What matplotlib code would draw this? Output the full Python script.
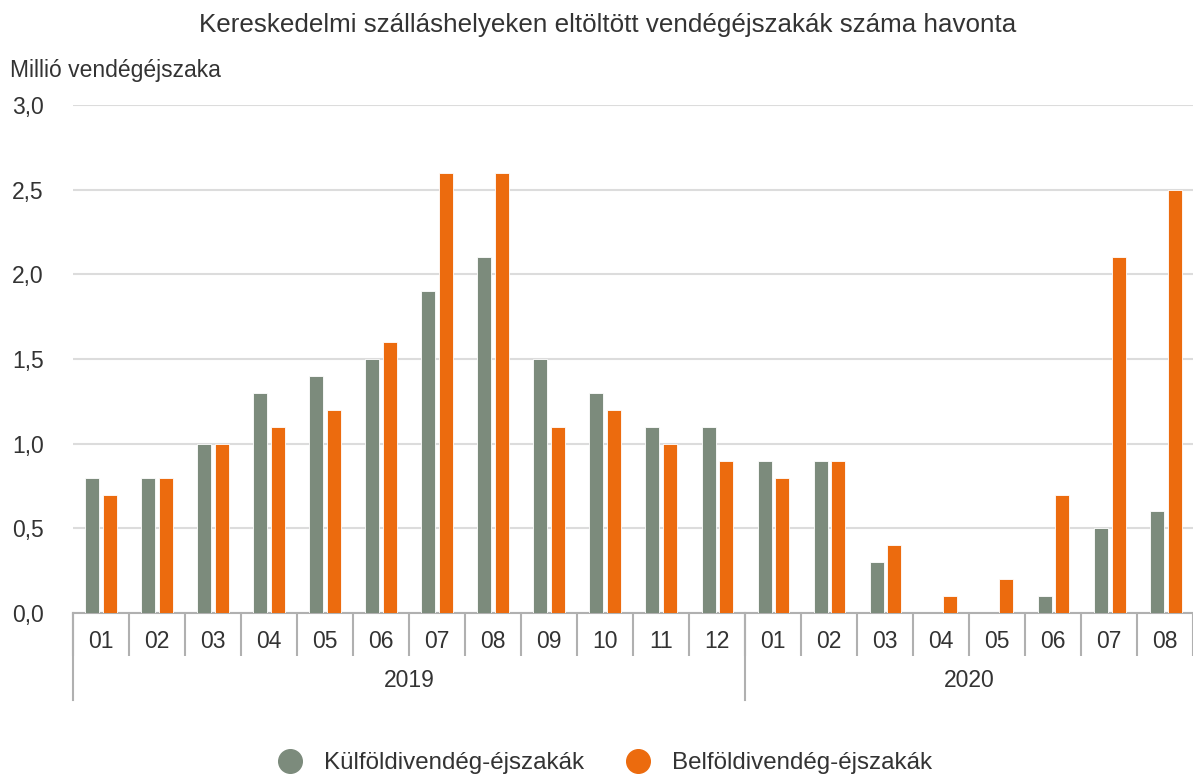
import numpy as np
import matplotlib.pyplot as plt
from matplotlib.lines import Line2D

plt.rcParams['font.family'] = ['Liberation Sans', 'DejaVu Sans']

months = ['01', '02', '03', '04', '05', '06', '07', '08', '09', '10', '11', '12',
          '01', '02', '03', '04', '05', '06', '07', '08']
years = ['2019', '2020']
year_len = [12, 8]
kulfold = [0.8, 0.8, 1.0, 1.3, 1.4, 1.5, 1.9, 2.1, 1.5, 1.3, 1.1, 1.1,
           0.9, 0.9, 0.3, 0.0, 0.0, 0.1, 0.5, 0.6]
belfold = [0.7, 0.8, 1.0, 1.1, 1.2, 1.6, 2.6, 2.6, 1.1, 1.2, 1.0, 0.9,
           0.8, 0.9, 0.4, 0.1, 0.2, 0.7, 2.1, 2.5]
yticks = [0.0, 0.5, 1.0, 1.5, 2.0, 2.5, 3.0]

green = '#7c8b7c'
orange = '#ec6b0e'
txt = '#333333'
axc = '#b0b0b0'
fs = 16.5

fig = plt.figure(figsize=(11.93, 7.78), dpi=100)
ax = fig.add_axes([0.061, 0.212, 0.939, 0.653])

x = np.arange(len(months))
w = 0.25
ax.bar(x - 0.15, kulfold, w, color=green, edgecolor='white', linewidth=0.6, zorder=3)
ax.bar(x + 0.17, belfold, w, color=orange, edgecolor='white', linewidth=0.6, zorder=3)

ax.set_xlim(-0.5, len(months) - 0.5)
ax.set_ylim(0, 3.0)
ax.set_yticks(yticks)
ax.set_yticklabels([f'{v:.1f}'.replace('.', ',') for v in yticks])
ax.yaxis.grid(True, color='#dcdcdc', linewidth=1.5, zorder=0)
ax.tick_params(axis='y', length=0, pad=21, labelsize=fs, labelcolor=txt)

ax.set_xticks(x)
ax.set_xticklabels(months)
ax.set_xticks(np.arange(len(months) + 1) - 0.5, minor=True)
ax.tick_params(axis='x', which='major', length=0, pad=12, labelsize=fs, labelcolor=txt)
ax.tick_params(axis='x', which='minor', length=31, width=1.5, color=axc)

for s in ['top', 'right', 'left']:
    ax.spines[s].set_visible(False)
ax.spines['bottom'].set_color(axc)
ax.spines['bottom'].set_linewidth(1.5)

# year level
trans = ax.get_xaxis_transform()
start = 0
for yr, n in zip(years, year_len):
    ax.plot([start - 0.5, start - 0.5], [0, -0.171], transform=trans, color=axc,
            linewidth=1.5, clip_on=False)
    ax.text(start + (n - 1) / 2, -0.132, yr, transform=trans, ha='center', va='center',
            fontsize=fs, color=txt)
    start += n

fig.text(0.509, 1 - 25 / 778, 'Kereskedelmi szálláshelyeken eltöltött vendégéjszakák száma havonta',
         ha='center', va='center', fontsize=18.7, color=txt)
fig.text(10 / 1193, 1 - 70 / 778, 'Millió vendégéjszaka', ha='left', va='center',
         fontsize=fs, color=txt)

handles = [Line2D([], [], marker='o', linestyle='', markersize=17, color=green),
           Line2D([], [], marker='o', linestyle='', markersize=17, color=orange)]
fig.legend(handles, ['Külföldivendég-éjszakák', 'Belföldivendég-éjszakák'],
           loc='center', bbox_to_anchor=(0.502, 1 - 763 / 778), ncol=2, frameon=False,
           fontsize=17.4, labelcolor=txt, handletextpad=0.4, columnspacing=1.25)

fig.savefig('out.png', dpi=100)
